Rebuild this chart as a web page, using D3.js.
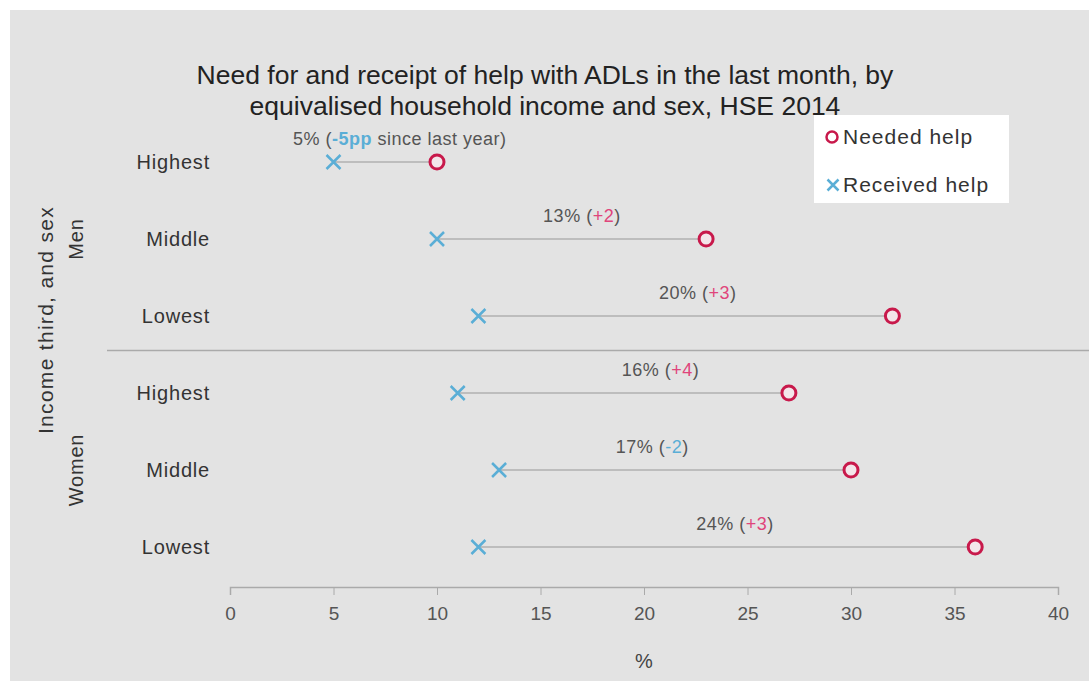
<!DOCTYPE html>
<html>
<head>
<meta charset="utf-8">
<script src="https://cdn.jsdelivr.net/npm/d3@7"></script>
<style>
  body { margin: 0; background: #fff; }
  svg { display: block; font-family: "Liberation Sans", Arial, sans-serif; }
</style>
</head>
<body>
<div id="chart"></div>
<script>
// data (%)
const sexes = ["Men", "Women"];
const rows = ["Men|Highest", "Men|Middle", "Men|Lowest", "Women|Highest", "Women|Middle", "Women|Lowest"];
const received = [5, 10, 12, 11, 13, 12];
const needed = [10, 23, 32, 27, 30, 36];
const gapText = ["5%", "13%", "20%", "16%", "17%", "24%"];
const changeText = ["-5pp", "+2", "+3", "+4", "-2", "+3"];
const labelAt = [8.2, 17.0, 22.6, 20.8, 20.4, 24.4];   // where each label is centred, in %
const xTicks = [0, 5, 10, 15, 20, 25, 30, 35, 40];

const W = 1089, H = 681;
const red = "#c8194b", blue = "#5aaed6", pink = "#e0457b";

const svg = d3.select("#chart").append("svg")
  .attr("width", W)
  .attr("height", H);

// panel background
svg.append("rect")
  .attr("x", 10).attr("y", 10)
  .attr("width", W - 10).attr("height", H - 10)
  .attr("fill", "#e3e3e3");

// title
svg.append("text")
  .attr("x", 545).attr("y", 84)
  .attr("text-anchor", "middle")
  .style("font-size", "26.5px")
  .attr("fill", "#222")
  .text("Need for and receipt of help with ADLs in the last month, by");
svg.append("text")
  .attr("x", 545).attr("y", 115)
  .attr("text-anchor", "middle")
  .style("font-size", "26.5px")
  .attr("fill", "#222")
  .text("equivalised household income and sex, HSE 2014");

const x = d3.scaleLinear().domain([0, 40]).range([230, 1058]);
const y = d3.scalePoint().domain(rows).range([162, 547]);

// x axis
const xAxis = svg.append("g")
  .attr("transform", "translate(0,587)")
  .call(d3.axisBottom(x).tickValues(xTicks).tickSize(8).tickPadding(12).tickFormat(d3.format("d")));
xAxis.select(".domain").attr("stroke", "#aaa").attr("stroke-width", 1.5);
xAxis.selectAll(".tick line").attr("stroke", "#aaa").attr("y2", 8);
xAxis.selectAll(".tick text")
  .attr("fill", "#555")
  .style("font-size", "19px")
  .style("font-family", "Liberation Sans, Arial, sans-serif");

svg.append("text")
  .attr("x", x(20)).attr("y", 668)
  .attr("text-anchor", "middle")
  .attr("fill", "#444")
  .style("font-size", "20px")
  .text("%");

// separator between men and women
svg.append("line")
  .attr("x1", 107).attr("x2", W)
  .attr("y1", (y(rows[2]) + y(rows[3])) / 2 - 4)
  .attr("y2", (y(rows[2]) + y(rows[3])) / 2 - 4)
  .attr("stroke", "#aaa")
  .attr("stroke-width", 1.5);

// row labels
svg.selectAll(".row-label")
  .data(rows)
  .enter()
  .append("text")
  .attr("class", "row-label")
  .attr("x", 210)
  .attr("y", d => y(d) + 7)
  .attr("text-anchor", "end")
  .attr("fill", "#333")
  .style("font-size", "20px")
  .style("letter-spacing", "0.8px")
  .text(d => d.split("|")[1]);

// sex labels
sexes.forEach(s => {
  const cy = y(s + "|Middle");
  svg.append("text")
    .attr("transform", `translate(83,${cy}) rotate(-90)`)
    .attr("text-anchor", "middle")
    .attr("fill", "#333")
    .style("font-size", "20px")
    .style("letter-spacing", "0.8px")
    .text(s);
});

svg.append("text")
  .attr("transform", `translate(53,320) rotate(-90)`)
  .attr("text-anchor", "middle")
  .attr("fill", "#333")
  .style("font-size", "21px")
  .style("letter-spacing", "1.3px")
  .text("Income third, and sex");

// connecting lines
svg.selectAll(".gap-line")
  .data(rows)
  .enter()
  .append("line")
  .attr("class", "gap-line")
  .attr("x1", (d, i) => x(received[i]))
  .attr("x2", (d, i) => x(needed[i]))
  .attr("y1", d => y(d))
  .attr("y2", d => y(d))
  .attr("stroke", "#bdbdbd")
  .attr("stroke-width", 2);

// needed help: circles
svg.selectAll(".needed")
  .data(rows)
  .enter()
  .append("circle")
  .attr("class", "needed")
  .attr("cx", (d, i) => x(needed[i]))
  .attr("cy", d => y(d))
  .attr("r", 7)
  .attr("fill", "#f3e6ea")
  .attr("stroke", red)
  .attr("stroke-width", 3);

// received help: crosses
const cross = (g, cx, cy, s) => {
  g.append("path")
    .attr("d", `M${cx - s},${cy - s}L${cx + s},${cy + s}M${cx - s},${cy + s}L${cx + s},${cy - s}`)
    .attr("stroke", blue)
    .attr("stroke-width", 2.5)
    .attr("fill", "none");
};
rows.forEach((r, i) => cross(svg, x(received[i]), y(r), 7));

// gap labels
rows.forEach((r, i) => {
  const t = svg.append("text")
    .attr("x", x(labelAt[i]))
    .attr("y", y(r) - 17)
    .attr("text-anchor", "middle")
    .attr("fill", "#555")
    .style("font-size", "18px")
    .style("letter-spacing", "0.5px");
  const up = changeText[i][0] === "+";
  t.append("tspan").text(gapText[i] + " (");
  t.append("tspan")
    .attr("fill", up ? pink : blue)
    .style("font-weight", i === 0 ? "bold" : "normal")
    .text(changeText[i]);
  t.append("tspan").text(i === 0 ? " since last year)" : ")");
});

// legend
const legend = svg.append("g").attr("transform", "translate(814,115)");
legend.append("rect")
  .attr("width", 195).attr("height", 88)
  .attr("fill", "#fff");
legend.append("circle")
  .attr("cx", 18).attr("cy", 22).attr("r", 5.5)
  .attr("fill", "#fff")
  .attr("stroke", red)
  .attr("stroke-width", 2.5);
legend.append("text")
  .attr("x", 29).attr("y", 29)
  .attr("fill", "#333")
  .style("font-size", "21px")
  .style("letter-spacing", "1px")
  .text("Needed help");
cross(legend, 19, 70, 5.5);
legend.append("text")
  .attr("x", 29).attr("y", 77)
  .attr("fill", "#333")
  .style("font-size", "21px")
  .style("letter-spacing", "1px")
  .text("Received help");
</script>
</body>
</html>
